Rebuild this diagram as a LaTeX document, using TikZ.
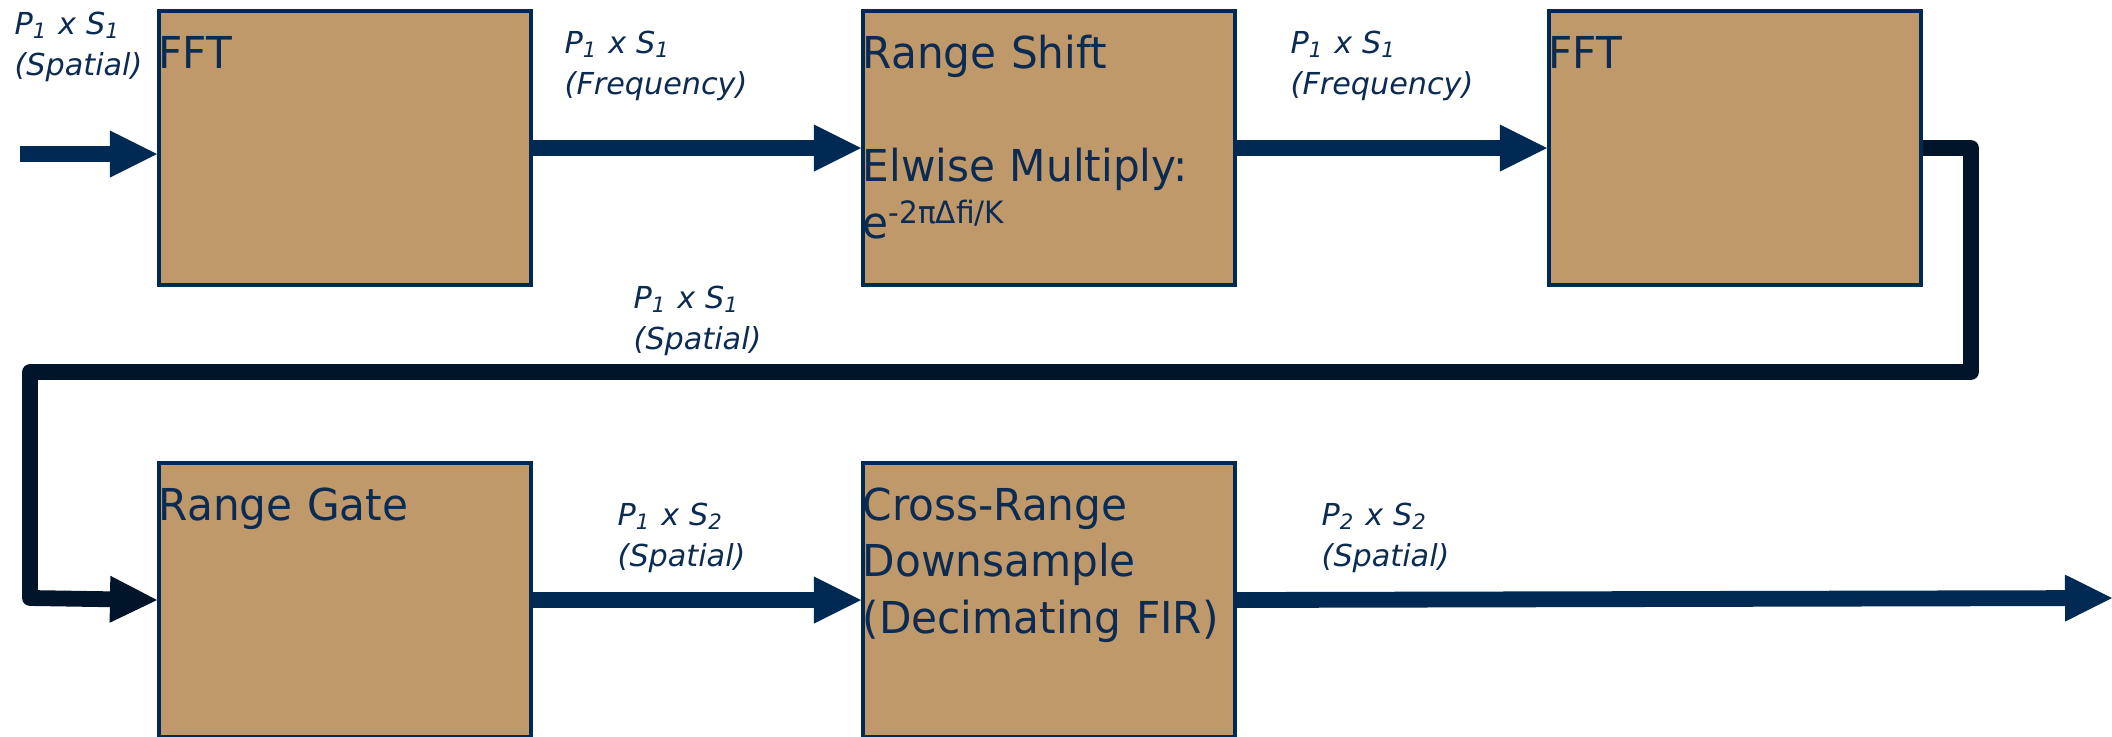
\documentclass[tikz,border=0pt]{standalone}
\usepackage{fontspec}
\usepackage{tikz}
\usetikzlibrary{arrows.meta}
\newfontfamily\blkfont{DejaVu Sans}[FakeStretch=0.96]
\newfontfamily\lblfont{DejaVu Sans}
\definecolor{boxtan}{HTML}{BF996A}
\definecolor{navy}{HTML}{002A54}
\definecolor{darknavy}{HTML}{001529}
\definecolor{txtnavy}{HTML}{0C2B53}

\tikzset{
  blk/.style={draw=navy, line width=1.1pt, fill=boxtan, minimum width=3.72cm,
    minimum height=2.74cm, anchor=north west, inner sep=0pt},
  blktext/.style={anchor=base west, inner sep=0pt, text=txtnavy, text width=3.6cm,
    align=left, font=\blkfont\fontsize{12.5}{16.2}\selectfont},
  lbl/.style={anchor=base west, inner sep=0pt, text=txtnavy, text width=2cm, align=left,
    font=\lblfont\itshape\fontsize{8.6}{11.8}\selectfont},
  flow/.style={navy, line width=4.5pt,
    -{Triangle[length=0.47cm,width=0.47cm,line width=0pt]}},
}

\begin{document}
\begin{tikzpicture}[x=0.01cm,y=-0.01cm]
	\useasboundingbox (0,0) rectangle (2112,736);
	% processing blocks
	\node[blk] (fft1) at (157,9) {};
	\node[blk] (rshift) at (861,9) {};
	\node[blk] (fft3) at (1547,9) {};
	\node[blk] (rgate) at (157,461) {};
	\node[blk] (crange) at (861,461) {};
	\node[blktext] at ([shift={(1,59)}]fft1.north west) {FFT};
	\node[blktext] at ([shift={(1,59)}]rshift.north west) {Range Shift\\[\baselineskip]Elwise Multiply:\\e\textsuperscript{-2πΔfi/K}};
	\node[blktext] at ([shift={(1,59)}]fft3.north west) {FFT};
	\node[blktext] at ([shift={(1,59)}]rgate.north west) {Range Gate};
	\node[blktext] at ([shift={(1,59)}]crange.north west) {Cross-Range\\Downsample\\(Decimating FIR)};
	% data flow
	\coordinate (src) at (20,154);
	\coordinate (sink) at (2112,598);
	\coordinate (turnR) at (1971,372);
	\coordinate (turnL) at (30,598);
	\draw[flow] (src) -- (src -| fft1.west);
	\draw[flow] (fft1.east) -- (rshift.west);
	\draw[flow] (rshift.east) -- (fft3.west);
	\draw[flow,darknavy,line join=round] (fft3.east) -| (turnR) -| (turnL) -- (rgate.west);
	\draw[flow] (rgate.east) -- (crange.west);
	\draw[flow] (crange.east) -- (sink);
	% sizes
	\node[lbl] at (14,34) {P\textsubscript{1} x S\textsubscript{1}\\(Spatial)};
	\node[lbl] at (564,53) {P\textsubscript{1} x S\textsubscript{1}\\(Frequency)};
	\node[lbl] at (1290,53) {P\textsubscript{1} x S\textsubscript{1}\\(Frequency)};
	\node[lbl] at (633,308) {P\textsubscript{1} x S\textsubscript{1}\\(Spatial)};
	\node[lbl] at (617,525) {P\textsubscript{1} x S\textsubscript{2}\\(Spatial)};
	\node[lbl] at (1321,525) {P\textsubscript{2} x S\textsubscript{2}\\(Spatial)};
\end{tikzpicture}
\end{document}
